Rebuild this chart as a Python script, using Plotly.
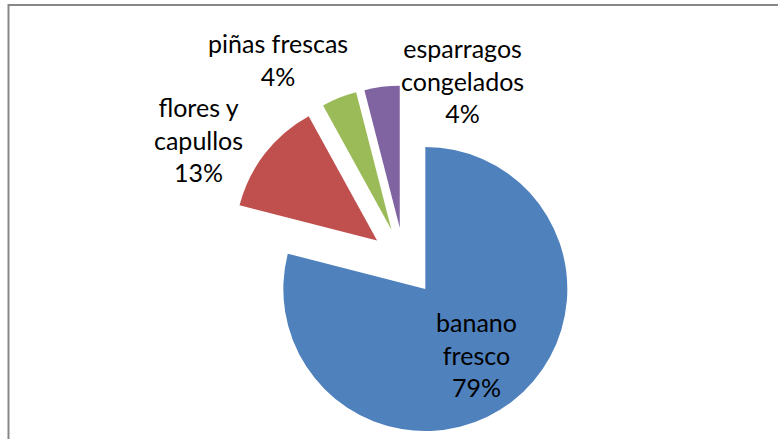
import plotly.graph_objects as go

labels = ["banano fresco", "flores y capullos", "piñas frescas", "esparragos congelados"]
label_lines = [["banano", "fresco"], ["flores y", "capullos"], ["piñas frescas"], ["esparragos", "congelados"]]
values = [79, 13, 4, 4]
colors = ["#4F81BD", "#C0504D", "#9BBB59", "#8064A2"]
pulls = [0.245, 0.24, 0.24, 0.24]

W, H = 778, 439
cx, cy = 404, 261.5
half = 142 * (1 + max(pulls))

fig = go.Figure(go.Pie(
    labels=labels, values=values, sort=False, direction="clockwise", rotation=0,
    marker=dict(colors=colors, line=dict(width=0)), pull=pulls,
    textinfo="none", hoverinfo="label+percent", showlegend=False,
    domain=dict(x=[(cx - half) / W, (cx + half) / W],
                y=[max(0, (H - cy - half) / H), min(1, (H - cy + half) / H)]),
))

# label anchor positions (pixels, centre of text block)
label_pos = [(476, 354), (198, 139), (278, 60), (462, 80)]
for lines, v, (px, py) in zip(label_lines, values, label_pos):
    fig.add_annotation(
        x=px / W, y=1 - py / H, xref="paper", yref="paper",
        text="<br>".join(lines + [f"{v}%"]), showarrow=False,
        xanchor="center", yanchor="middle", align="center",
        font=dict(family="Lato, Carlito, sans-serif", size=25, color="#000000"),
    )

fig.add_shape(type="rect", xref="paper", yref="paper",
              x0=8.5 / W, x1=1.02, y0=-0.02, y1=1 - 5 / H,
              line=dict(color="#878787", width=2), fillcolor="rgba(0,0,0,0)")

fig.update_layout(width=W, height=H, margin=dict(l=0, r=0, t=0, b=0),
                  paper_bgcolor="white", plot_bgcolor="white")
fig.write_html("out.html", config={"displayModeBar": False},
               post_script="document.body.style.margin='0px';document.body.style.overflow='hidden';")
